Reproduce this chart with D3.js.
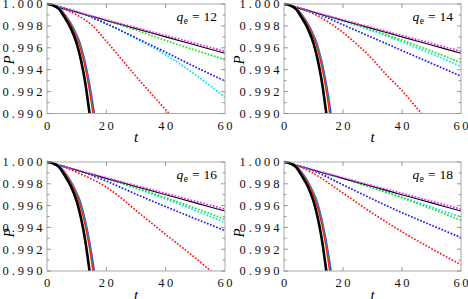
<!DOCTYPE html>
<html><head><meta charset="utf-8">
<script src="https://cdn.jsdelivr.net/npm/d3@7"></script>
<style>body{margin:0;background:#fff}svg{display:block}</style>
</head><body>
<svg id="c" width="468" height="299"></svg>
<script>
// ---------- data ----------
const qeLabels = ["12", "14", "16", "18"];
const yTicks = [0.990, 0.992, 0.994, 0.996, 0.998, 1.000];
const yMinorTicks = [0.991, 0.993, 0.995, 0.997, 0.999];
const xTicks = [0, 20, 40, 60];
const xInnerTicks = [20, 40];

// steep (solid) group, shared by all panels
const tSteep = [0, 2, 4, 6, 8, 10, 11, 12, 13, 14, 15, 16, 17];
const blackSteep   = [1, 0.99988, 0.99955, 0.99875, 0.99780, 0.99640, 0.99540, 0.99415, 0.99262, 0.99069, 0.98870, 0.9865, 0.9840];
const redSteep     = [1, 0.99989, 0.99960, 0.99895, 0.99808, 0.99692, 0.99620, 0.99522, 0.99403, 0.99260, 0.99090, 0.9889, 0.9866];
const greenSteep   = [1, 0.99990, 0.99962, 0.99900, 0.99815, 0.99703, 0.99634, 0.99538, 0.99422, 0.99283, 0.99118, 0.9892, 0.9870];
const blueSteep    = [1, 0.99990, 0.99963, 0.99903, 0.99820, 0.99711, 0.99646, 0.99551, 0.99440, 0.99306, 0.99147, 0.9897, 0.9877];
const cyanSteep    = [1, 0.99990, 0.99963, 0.99905, 0.99823, 0.99715, 0.99651, 0.99557, 0.99447, 0.99315, 0.99160, 0.9898, 0.9879];
const magentaSteep = [1, 0.99991, 0.99965, 0.99908, 0.99828, 0.99721, 0.99658, 0.99566, 0.99458, 0.99328, 0.99176, 0.9900, 0.9881];

// slow group
const tSlow = [0, 10, 20, 30, 40, 50, 60];
const blackSlow   = [1, 0.99925, 0.99850, 0.99775, 0.99700, 0.99625, 0.99550];
const magentaSlow = [1, 0.99928, 0.99856, 0.99784, 0.99712, 0.99640, 0.99568];

const green12 = [1, 0.99925, 0.99848, 0.99762, 0.99667, 0.99578, 0.99492];
const blue12  = [1, 0.99930, 0.99820, 0.99690, 0.99560, 0.99425, 0.99297];
const cyan12  = [1, 0.99930, 0.99820, 0.99685, 0.99535, 0.99355, 0.99147];
const tRed12  = [0, 5, 10, 15, 20, 25, 30, 35, 40, 45];
const red12   = [1, 0.99960, 0.99900, 0.99810, 0.99660, 0.99500, 0.99340, 0.99185, 0.99035, 0.98885];

const green14 = [1, 0.99925, 0.99848, 0.99762, 0.99670, 0.99570, 0.99465];
const cyan14  = [1, 0.99925, 0.99845, 0.99755, 0.99655, 0.99545, 0.99430];
const blue14  = [1, 0.99925, 0.99810, 0.99693, 0.99575, 0.99458, 0.99341];
const tRed14  = [0, 5, 10, 15, 20, 25, 30, 35, 40, 45, 50];
const red14   = [1, 0.99962, 0.99910, 0.99835, 0.99740, 0.99625, 0.99495, 0.99345, 0.99210, 0.99050, 0.98900];

const green16 = [1, 0.99925, 0.99848, 0.99765, 0.99673, 0.99576, 0.99474];
const cyan16  = [1, 0.99925, 0.99846, 0.99758, 0.99660, 0.99555, 0.99443];
const blue16  = [1, 0.99925, 0.99825, 0.99705, 0.99590, 0.99480, 0.99370];
const tRed16  = [0, 5, 10, 15, 20, 25, 30, 35, 40, 45, 50, 55, 60];
const red16   = [1, 0.99962, 0.99905, 0.99845, 0.99770, 0.99670, 0.99555, 0.99445, 0.99335, 0.99228, 0.99120, 0.99005, 0.98890];

const green18 = [1, 0.99925, 0.99848, 0.99763, 0.99670, 0.99570, 0.99466];
const cyan18  = [1, 0.99926, 0.99850, 0.99768, 0.99679, 0.99586, 0.99497];
const blue18  = [1, 0.99920, 0.99790, 0.99660, 0.99535, 0.99420, 0.99307];
const tRed18  = [0, 5, 10, 20, 30, 40, 50, 60];
const red18   = [1, 0.99962, 0.99895, 0.99715, 0.99530, 0.99360, 0.99205, 0.99058];

// ---------- styles / layout ----------
const C = {red:"#ff1a1a", green:"#19e619", blue:"#1a1aff", cyan:"#00e5ff", magenta:"#ff1aff", black:"#000"};
const dotted = "1.7 1.6";
function panelSeries(green, cyan, blue, tRed, red) {
  return [
    {t: tRed, v: red, color: C.red, w: 1.7, dash: dotted},
    {t: tSlow, v: cyan, color: C.cyan, w: 1.7, dash: dotted},
    {t: tSlow, v: blue, color: C.blue, w: 1.7, dash: dotted},
    {t: tSlow, v: green, color: C.green, w: 1.7, dash: dotted},
    {t: tSlow, v: blackSlow, color: C.black, w: 1.1, dash: null},
    {t: tSlow, v: magentaSlow, color: C.magenta, w: 1.7, dash: dotted},
    {t: tSteep, v: magentaSteep, color: C.magenta, w: 1.4, dash: null},
    {t: tSteep, v: cyanSteep, color: C.cyan, w: 1.4, dash: null},
    {t: tSteep, v: blueSteep, color: C.blue, w: 1.4, dash: null},
    {t: tSteep, v: greenSteep, color: C.green, w: 1.4, dash: null},
    {t: tSteep, v: redSteep, color: C.red, w: 1.4, dash: null},
    {t: tSteep, v: blackSteep, color: C.black, w: 2.6, dash: null}
  ];
}
const panels = [
  panelSeries(green12, cyan12, blue12, tRed12, red12),
  panelSeries(green14, cyan14, blue14, tRed14, red14),
  panelSeries(green16, cyan16, blue16, tRed16, red16),
  panelSeries(green18, cyan18, blue18, tRed18, red18)
];
const cols = [[47, 225], [284, 461]];
const rows = [[4, 113.5], [162, 271]];
const pLabelX = [9, 239];
const pLabelY = [60, 233];

const svg = d3.select("#c");
const serif = "Liberation Serif";

panels.forEach((series, i) => {
  const [x0, x1] = cols[i % 2];
  const [y0, y1] = rows[Math.floor(i / 2)];
  const x = d3.scaleLinear().domain([0, 60]).range([x0, x1]);
  const y = d3.scaleLinear().domain([0.990, 1.000]).range([y1, y0]);
  const g = svg.append("g");
  const cid = "clip" + i;
  svg.append("clipPath").attr("id", cid).append("rect")
    .attr("x", x0).attr("y", y0 - 2).attr("width", x1 - x0).attr("height", y1 - y0 + 2);

  const lines = g.append("g").attr("clip-path", `url(#${cid})`);
  series.forEach(s => {
    const line = d3.line().x((d, k) => x(s.t[k])).y(d => y(d)).curve(d3.curveMonotoneX);
    lines.append("path").attr("d", line(s.v))
      .attr("fill", "none").attr("stroke", s.color).attr("stroke-width", s.w)
      .attr("stroke-dasharray", s.dash);
  });

  // frame
  g.append("rect").attr("x", x0).attr("y", y0).attr("width", x1 - x0).attr("height", y1 - y0)
    .attr("fill", "none").attr("stroke", "#a8a8a8").attr("stroke-width", 1);
  // ticks
  const tk = g.append("g").attr("stroke", "#8a8a8a").attr("stroke-width", 0.9);
  yTicks.forEach(v => {
    tk.append("line").attr("x1", x0).attr("x2", x0 + 4).attr("y1", y(v)).attr("y2", y(v));
    tk.append("line").attr("x1", x1).attr("x2", x1 - 4).attr("y1", y(v)).attr("y2", y(v));
  });
  yMinorTicks.forEach(v => {
    tk.append("line").attr("x1", x0).attr("x2", x0 + 2.5).attr("y1", y(v)).attr("y2", y(v));
    tk.append("line").attr("x1", x1).attr("x2", x1 - 2.5).attr("y1", y(v)).attr("y2", y(v));
  });
  xInnerTicks.forEach(v => {
    tk.append("line").attr("x1", x(v)).attr("x2", x(v)).attr("y1", y1).attr("y2", y1 - 4);
    tk.append("line").attr("x1", x(v)).attr("x2", x(v)).attr("y1", y0).attr("y2", y0 + 4);
  });

  // tick labels
  yTicks.forEach(v => {
    g.append("text").attr("x", x0 - 4.5).attr("y", y(v)).attr("dy", "0.35em")
      .attr("text-anchor", "end").attr("font-family", serif).attr("font-size", 12.5)
      .attr("textLength", 40).attr("lengthAdjust", "spacing").attr("fill", "#111")
      .text(d3.format(".3f")(v));
  });
  xTicks.forEach(v => {
    const t = g.append("text").attr("x", x(v)).attr("y", y1 + 16)
      .attr("text-anchor", "middle").attr("font-family", serif).attr("font-size", 12.5)
      .attr("fill", "#111").text(String(v));
    if (String(v).length > 1) t.attr("textLength", 15).attr("lengthAdjust", "spacing");
  });

  // axis labels
  g.append("text").attr("transform", `translate(${pLabelX[i % 2]},${pLabelY[Math.floor(i / 2)]}) rotate(-90)`)
    .attr("text-anchor", "middle").attr("dy", "0.35em")
    .attr("font-family", serif).attr("font-style", "italic").attr("font-size", 15).text("P");
  g.append("text").attr("x", (x0 + x1) / 2).attr("y", y1 + 28.5)
    .attr("text-anchor", "middle").attr("font-family", serif).attr("font-style", "italic")
    .attr("font-size", 15).text("t");

  // annotation q_e = N
  const ann = g.append("text").attr("x", x1 - 8).attr("y", y0 + 17.3)
    .attr("text-anchor", "end").attr("font-family", serif).attr("font-size", 13.5);
  ann.append("tspan").attr("font-style", "italic").text("q");
  ann.append("tspan").attr("font-size", 9.5).attr("dy", 3).attr("dx", 0.5).text("e");
  ann.append("tspan").attr("dy", -3).attr("dx", 4).text("=");
  ann.append("tspan").attr("dx", 4).text(qeLabels[i]);
});
</script>
</body></html>
